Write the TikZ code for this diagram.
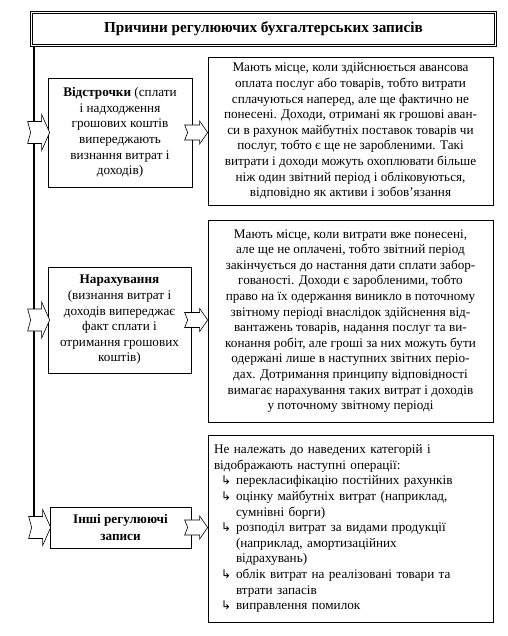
\documentclass[tikz,border=0pt]{standalone}
\usepackage{fontspec}
\setmainfont{Liberation Serif}
\newfontfamily\symf{DejaVu Sans}
\usetikzlibrary{calc}
\newcommand\itm{\hspace*{7pt}\makebox[15pt][l]{\symf\fontsize{12}{12}\selectfont ↳}}
\newcommand\cnt{\hspace*{22pt}}
\begin{document}
\begin{tikzpicture}[x=1pt,y=-1pt,
  every node/.style={font=\fontsize{13.2}{15.6}\selectfont},
  lbox/.style={draw,line width=0.7pt,fill=white,align=center,inner sep=0pt},
  rbox/.style={draw,line width=0.7pt,fill=white,inner sep=0pt},
  pics/blk/.style args={#1/#2/#3}{code={
    \draw[fill=white,line width=0.6pt] (0,-#2) -- (#1-8,-#2) -- (#1-8,-#3) -- (#1,0)
      -- (#1-8,#3) -- (#1-8,#2) -- (0,#2) -- (3,0) -- cycle;}}]
\useasboundingbox (0,0) rectangle (507,636);

% title
\node[draw,double,double distance=1.6pt,line width=1.1pt,minimum width=464pt,minimum height=33pt,
  font=\bfseries\fontsize{15.2}{17}\selectfont] (title) at (263.5,29)
  {Причини регулюючих бухгалтерських записів};

% spine
\coordinate (spinetop) at (34,47);
\coordinate (spinebot) at (34,520);
\draw[line width=2.4pt] (title.south -| spinetop) -- (spinebot);

% left boxes
\node[lbox,minimum width=144pt,minimum height=109pt] (L1) at (120,132.5)
  {\textbf{Відстрочки} (сплати\\і надходження\\грошових коштів\\випереджають\\визнання витрат і\\доходів)};
\node[lbox,minimum width=143pt,minimum height=106pt] (L2) at (119.5,320)
  {\textbf{Нарахування}\\(визнання витрат і\\доходів випереджає\\факт сплати і\\отримання грошових\\коштів)};
\node[lbox,minimum width=141pt,minimum height=41pt,font=\bfseries\fontsize{13.2}{16.5}\selectfont] (L3) at (120.5,527.5)
  {Інші регулюючі\\записи};

% right boxes
\node[rbox,align=center,minimum width=285pt,minimum height=148pt] (R1) at (350.5,131)
  {Мають місце, коли здійснюється авансова\\
   оплата послуг або товарів, тобто витрати\\
   сплачуються наперед, але ще фактично не\\
   понесені. Доходи, отримані як грошові аван-\\
   си в рахунок майбутніх поставок товарів чи\\
   послуг, тобто є ще не заробленими. Такі\\
   витрати і доходи можуть охоплювати більше\\
   ніж один звітний період і обліковуються,\\
   відповідно як активи і зобов’язання};
\node[rbox,align=center,minimum width=285pt,minimum height=202pt] (R2) at (350.5,321)
  {Мають місце, коли витрати вже понесені,\\
   але ще не оплачені, тобто звітний період\\
   закінчується до настання дати сплати забор-\\
   гованості. Доходи є заробленими, тобто\\
   право на їх одержання виникло в поточному\\
   звітному періоді внаслідок здійснення від-\\
   вантажень товарів, надання послуг та ви-\\
   конання робіт, але гроші за них можуть бути\\
   одержані лише в наступних звітних періо-\\
   дах. Дотримання принципу відповідності\\
   вимагає нарахування таких витрат і доходів\\
   у поточному звітному періоді};
\node[rbox,align=left,minimum width=285pt,minimum height=187pt,text width=273pt] (R3) at (350.5,528.5)
  {Не належать до наведених категорій і\\
   відображають наступні операції:\\
   \itm перекласифікацію постійних рахунків\\
   \itm оцінку майбутніх витрат (наприклад,\\
   \cnt сумнівні борги)\\
   \itm розподіл витрат за видами продукції\\
   \cnt (наприклад, амортизаційних\\
   \cnt відрахувань)\\
   \itm облік витрат на реалізовані товари та\\
   \cnt втрати запасів\\
   \itm виправлення помилок};

% block arrows
\pic at ($(L1.west)+(-20,0)$) {blk=22/11/18};
\pic at ($(L2.west)+(-20,0)$) {blk=22/11/18};
\pic at ($(L3.west)+(-21,0)$) {blk=22/11/18};
\pic at ($(R1.west |- L1.east)+(-23,0)$) {blk=23/7.5/11.5};
\pic at ($(R2.west |- L2.east)+(-23,0)$) {blk=23/7.5/11.5};
\pic at ($(R3.west |- L3.east)+(-23,0)$) {blk=23/7.5/11.5};
\end{tikzpicture}
\end{document}
